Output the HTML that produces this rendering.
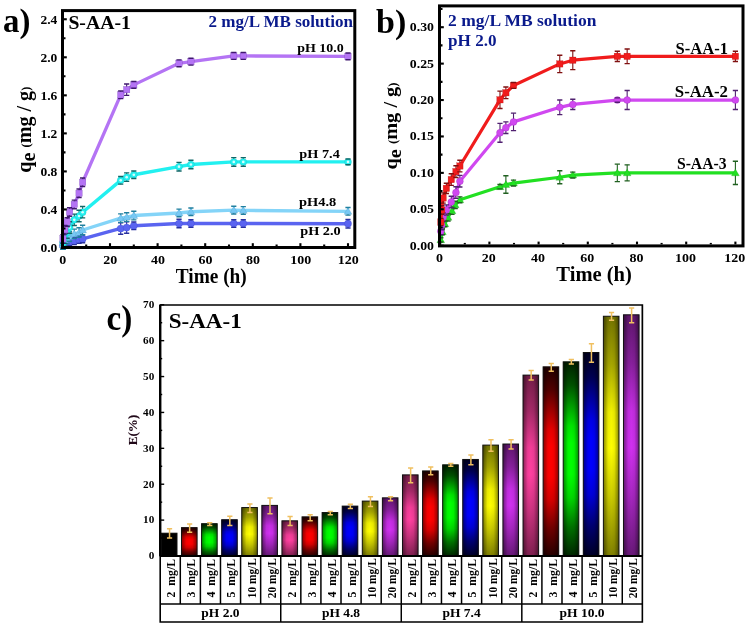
<!DOCTYPE html>
<html><head><meta charset="utf-8"><style>
html,body{margin:0;padding:0;background:#fff;}
body{width:749px;height:626px;overflow:hidden;font-family:"Liberation Serif",serif;}
svg{display:block;filter:blur(0.3px);}
</style></head><body>
<svg width="749" height="626" viewBox="0 0 749 626">
<rect width="749" height="626" fill="#fff"/>
<polyline points="62.99,245.60 64.78,243.70 67.16,242.75 69.54,241.79 74.30,240.84 79.06,239.61 82.63,238.94 120.71,228.48 126.66,227.53 133.80,225.82 179.02,223.53 190.92,223.53 233.76,223.53 243.28,223.53 348.00,223.72" fill="none" stroke="#5a64f0" stroke-width="3.4" stroke-linejoin="round"/>
<path d="M62.99,241.79V249.40" stroke="#2830a0" stroke-width="1.1" fill="none"/>
<path d="M64.78,239.89V247.50" stroke="#2830a0" stroke-width="1.1" fill="none"/>
<path d="M67.16,238.94V246.55" stroke="#2830a0" stroke-width="1.1" fill="none"/>
<path d="M69.54,237.99V245.60" stroke="#2830a0" stroke-width="1.1" fill="none"/>
<path d="M74.30,237.04V244.65" stroke="#2830a0" stroke-width="1.1" fill="none"/>
<path d="M79.06,235.80V243.41" stroke="#2830a0" stroke-width="1.1" fill="none"/>
<path d="M82.63,235.14V242.75" stroke="#2830a0" stroke-width="1.1" fill="none"/>
<path d="M120.71,222.77V234.19" stroke="#2830a0" stroke-width="1.1" fill="none"/>
<path d="M126.66,221.82V233.24" stroke="#2830a0" stroke-width="1.1" fill="none"/>
<path d="M133.80,222.01V229.62" stroke="#2830a0" stroke-width="1.1" fill="none"/>
<path d="M179.02,219.26V227.81" stroke="#2830a0" stroke-width="1.1" fill="none"/>
<path d="M190.92,219.73V227.34" stroke="#2830a0" stroke-width="1.1" fill="none"/>
<path d="M233.76,219.73V227.34" stroke="#2830a0" stroke-width="1.1" fill="none"/>
<path d="M243.28,219.73V227.34" stroke="#2830a0" stroke-width="1.1" fill="none"/>
<path d="M348.00,219.45V228.00" stroke="#2830a0" stroke-width="1.1" fill="none"/>
<circle cx="62.99" cy="245.60" r="3.60" fill="#5a64f0" stroke="#3038c0" stroke-width="0.35" stroke-opacity="0.6"/>
<circle cx="64.78" cy="243.70" r="3.60" fill="#5a64f0" stroke="#3038c0" stroke-width="0.35" stroke-opacity="0.6"/>
<circle cx="67.16" cy="242.75" r="3.60" fill="#5a64f0" stroke="#3038c0" stroke-width="0.35" stroke-opacity="0.6"/>
<circle cx="69.54" cy="241.79" r="3.60" fill="#5a64f0" stroke="#3038c0" stroke-width="0.35" stroke-opacity="0.6"/>
<circle cx="74.30" cy="240.84" r="3.60" fill="#5a64f0" stroke="#3038c0" stroke-width="0.35" stroke-opacity="0.6"/>
<circle cx="79.06" cy="239.61" r="3.60" fill="#5a64f0" stroke="#3038c0" stroke-width="0.35" stroke-opacity="0.6"/>
<circle cx="82.63" cy="238.94" r="3.60" fill="#5a64f0" stroke="#3038c0" stroke-width="0.35" stroke-opacity="0.6"/>
<circle cx="120.71" cy="228.48" r="3.60" fill="#5a64f0" stroke="#3038c0" stroke-width="0.35" stroke-opacity="0.6"/>
<circle cx="126.66" cy="227.53" r="3.60" fill="#5a64f0" stroke="#3038c0" stroke-width="0.35" stroke-opacity="0.6"/>
<circle cx="133.80" cy="225.82" r="3.60" fill="#5a64f0" stroke="#3038c0" stroke-width="0.35" stroke-opacity="0.6"/>
<circle cx="179.02" cy="223.53" r="3.60" fill="#5a64f0" stroke="#3038c0" stroke-width="0.35" stroke-opacity="0.6"/>
<circle cx="190.92" cy="223.53" r="3.60" fill="#5a64f0" stroke="#3038c0" stroke-width="0.35" stroke-opacity="0.6"/>
<circle cx="233.76" cy="223.53" r="3.60" fill="#5a64f0" stroke="#3038c0" stroke-width="0.35" stroke-opacity="0.6"/>
<circle cx="243.28" cy="223.53" r="3.60" fill="#5a64f0" stroke="#3038c0" stroke-width="0.35" stroke-opacity="0.6"/>
<circle cx="348.00" cy="223.72" r="3.60" fill="#5a64f0" stroke="#3038c0" stroke-width="0.35" stroke-opacity="0.6"/>
<path d="M60.39,241.79H65.59M60.39,249.40H65.59" stroke="#2830a0" stroke-width="1.4" fill="none"/>
<path d="M62.18,239.89H67.38M62.18,247.50H67.38" stroke="#2830a0" stroke-width="1.4" fill="none"/>
<path d="M64.56,238.94H69.76M64.56,246.55H69.76" stroke="#2830a0" stroke-width="1.4" fill="none"/>
<path d="M66.94,237.99H72.14M66.94,245.60H72.14" stroke="#2830a0" stroke-width="1.4" fill="none"/>
<path d="M71.70,237.04H76.90M71.70,244.65H76.90" stroke="#2830a0" stroke-width="1.4" fill="none"/>
<path d="M76.46,235.80H81.66M76.46,243.41H81.66" stroke="#2830a0" stroke-width="1.4" fill="none"/>
<path d="M80.03,235.14H85.23M80.03,242.75H85.23" stroke="#2830a0" stroke-width="1.4" fill="none"/>
<path d="M118.11,222.77H123.31M118.11,234.19H123.31" stroke="#2830a0" stroke-width="1.4" fill="none"/>
<path d="M124.06,221.82H129.26M124.06,233.24H129.26" stroke="#2830a0" stroke-width="1.4" fill="none"/>
<path d="M131.20,222.01H136.40M131.20,229.62H136.40" stroke="#2830a0" stroke-width="1.4" fill="none"/>
<path d="M176.42,219.26H181.62M176.42,227.81H181.62" stroke="#2830a0" stroke-width="1.4" fill="none"/>
<path d="M188.32,219.73H193.52M188.32,227.34H193.52" stroke="#2830a0" stroke-width="1.4" fill="none"/>
<path d="M231.16,219.73H236.36M231.16,227.34H236.36" stroke="#2830a0" stroke-width="1.4" fill="none"/>
<path d="M240.68,219.73H245.88M240.68,227.34H245.88" stroke="#2830a0" stroke-width="1.4" fill="none"/>
<path d="M345.40,219.45H350.60M345.40,228.00H350.60" stroke="#2830a0" stroke-width="1.4" fill="none"/>
<polyline points="62.99,244.65 64.78,240.84 67.16,238.94 69.54,236.47 74.30,233.90 79.06,232.57 82.63,230.00 120.71,218.11 126.66,217.07 133.80,215.55 179.02,212.98 190.92,211.74 233.76,210.13 243.28,210.41 348.00,211.36" fill="none" stroke="#84d4f8" stroke-width="3.4" stroke-linejoin="round"/>
<path d="M62.99,239.89V249.40" stroke="#2080a0" stroke-width="1.1" fill="none"/>
<path d="M64.78,236.09V245.60" stroke="#2080a0" stroke-width="1.1" fill="none"/>
<path d="M67.16,234.19V243.70" stroke="#2080a0" stroke-width="1.1" fill="none"/>
<path d="M69.54,231.71V241.22" stroke="#2080a0" stroke-width="1.1" fill="none"/>
<path d="M74.30,229.15V238.66" stroke="#2080a0" stroke-width="1.1" fill="none"/>
<path d="M79.06,227.81V237.32" stroke="#2080a0" stroke-width="1.1" fill="none"/>
<path d="M82.63,225.25V234.76" stroke="#2080a0" stroke-width="1.1" fill="none"/>
<path d="M120.71,213.83V222.39" stroke="#2080a0" stroke-width="1.1" fill="none"/>
<path d="M126.66,212.79V221.35" stroke="#2080a0" stroke-width="1.1" fill="none"/>
<path d="M133.80,211.27V219.83" stroke="#2080a0" stroke-width="1.1" fill="none"/>
<path d="M179.02,209.17V216.78" stroke="#2080a0" stroke-width="1.1" fill="none"/>
<path d="M190.92,207.94V215.55" stroke="#2080a0" stroke-width="1.1" fill="none"/>
<path d="M233.76,206.32V213.93" stroke="#2080a0" stroke-width="1.1" fill="none"/>
<path d="M243.28,206.61V214.22" stroke="#2080a0" stroke-width="1.1" fill="none"/>
<path d="M348.00,207.56V215.17" stroke="#2080a0" stroke-width="1.1" fill="none"/>
<path d="M62.99,240.74 L66.91,247.58 L59.09,247.58 Z" fill="#78c8f4" stroke="#3088b0" stroke-width="0.35" stroke-opacity="0.6"/>
<path d="M64.78,236.93 L68.69,243.78 L60.87,243.78 Z" fill="#78c8f4" stroke="#3088b0" stroke-width="0.35" stroke-opacity="0.6"/>
<path d="M67.16,235.03 L71.07,241.87 L63.25,241.87 Z" fill="#78c8f4" stroke="#3088b0" stroke-width="0.35" stroke-opacity="0.6"/>
<path d="M69.54,232.56 L73.45,239.40 L65.63,239.40 Z" fill="#78c8f4" stroke="#3088b0" stroke-width="0.35" stroke-opacity="0.6"/>
<path d="M74.30,229.99 L78.21,236.83 L70.39,236.83 Z" fill="#78c8f4" stroke="#3088b0" stroke-width="0.35" stroke-opacity="0.6"/>
<path d="M79.06,228.66 L82.97,235.50 L75.15,235.50 Z" fill="#78c8f4" stroke="#3088b0" stroke-width="0.35" stroke-opacity="0.6"/>
<path d="M82.63,226.09 L86.54,232.93 L78.72,232.93 Z" fill="#78c8f4" stroke="#3088b0" stroke-width="0.35" stroke-opacity="0.6"/>
<path d="M120.71,214.20 L124.62,221.05 L116.80,221.05 Z" fill="#78c8f4" stroke="#3088b0" stroke-width="0.35" stroke-opacity="0.6"/>
<path d="M126.66,213.16 L130.57,220.00 L122.75,220.00 Z" fill="#78c8f4" stroke="#3088b0" stroke-width="0.35" stroke-opacity="0.6"/>
<path d="M133.80,211.64 L137.71,218.48 L129.89,218.48 Z" fill="#78c8f4" stroke="#3088b0" stroke-width="0.35" stroke-opacity="0.6"/>
<path d="M179.02,209.07 L182.93,215.91 L175.11,215.91 Z" fill="#78c8f4" stroke="#3088b0" stroke-width="0.35" stroke-opacity="0.6"/>
<path d="M190.92,207.83 L194.83,214.67 L187.01,214.67 Z" fill="#78c8f4" stroke="#3088b0" stroke-width="0.35" stroke-opacity="0.6"/>
<path d="M233.76,206.22 L237.67,213.06 L229.85,213.06 Z" fill="#78c8f4" stroke="#3088b0" stroke-width="0.35" stroke-opacity="0.6"/>
<path d="M243.28,206.50 L247.19,213.34 L239.37,213.34 Z" fill="#78c8f4" stroke="#3088b0" stroke-width="0.35" stroke-opacity="0.6"/>
<path d="M348.00,207.45 L351.91,214.29 L344.09,214.29 Z" fill="#78c8f4" stroke="#3088b0" stroke-width="0.35" stroke-opacity="0.6"/>
<path d="M60.39,239.89H65.59M60.39,249.40H65.59" stroke="#2080a0" stroke-width="1.4" fill="none"/>
<path d="M62.18,236.09H67.38M62.18,245.60H67.38" stroke="#2080a0" stroke-width="1.4" fill="none"/>
<path d="M64.56,234.19H69.76M64.56,243.70H69.76" stroke="#2080a0" stroke-width="1.4" fill="none"/>
<path d="M66.94,231.71H72.14M66.94,241.22H72.14" stroke="#2080a0" stroke-width="1.4" fill="none"/>
<path d="M71.70,229.15H76.90M71.70,238.66H76.90" stroke="#2080a0" stroke-width="1.4" fill="none"/>
<path d="M76.46,227.81H81.66M76.46,237.32H81.66" stroke="#2080a0" stroke-width="1.4" fill="none"/>
<path d="M80.03,225.25H85.23M80.03,234.76H85.23" stroke="#2080a0" stroke-width="1.4" fill="none"/>
<path d="M118.11,213.83H123.31M118.11,222.39H123.31" stroke="#2080a0" stroke-width="1.4" fill="none"/>
<path d="M124.06,212.79H129.26M124.06,221.35H129.26" stroke="#2080a0" stroke-width="1.4" fill="none"/>
<path d="M131.20,211.27H136.40M131.20,219.83H136.40" stroke="#2080a0" stroke-width="1.4" fill="none"/>
<path d="M176.42,209.17H181.62M176.42,216.78H181.62" stroke="#2080a0" stroke-width="1.4" fill="none"/>
<path d="M188.32,207.94H193.52M188.32,215.55H193.52" stroke="#2080a0" stroke-width="1.4" fill="none"/>
<path d="M231.16,206.32H236.36M231.16,213.93H236.36" stroke="#2080a0" stroke-width="1.4" fill="none"/>
<path d="M240.68,206.61H245.88M240.68,214.22H245.88" stroke="#2080a0" stroke-width="1.4" fill="none"/>
<path d="M345.40,207.56H350.60M345.40,215.17H350.60" stroke="#2080a0" stroke-width="1.4" fill="none"/>
<polyline points="62.99,242.75 64.78,237.70 67.16,232.57 69.54,227.53 74.30,219.83 79.06,216.02 82.63,212.22 120.71,180.36 126.66,177.13 133.80,174.75 179.02,166.67 190.92,164.48 233.76,161.91 243.28,161.91 348.00,161.91" fill="none" stroke="#22f0f0" stroke-width="3.4" stroke-linejoin="round"/>
<path d="M62.99,237.04V248.45" stroke="#106868" stroke-width="1.1" fill="none"/>
<path d="M64.78,232.00V243.41" stroke="#106868" stroke-width="1.1" fill="none"/>
<path d="M67.16,226.86V238.28" stroke="#106868" stroke-width="1.1" fill="none"/>
<path d="M69.54,221.82V233.24" stroke="#106868" stroke-width="1.1" fill="none"/>
<path d="M74.30,214.12V225.53" stroke="#106868" stroke-width="1.1" fill="none"/>
<path d="M79.06,210.32V221.73" stroke="#106868" stroke-width="1.1" fill="none"/>
<path d="M82.63,206.51V217.92" stroke="#106868" stroke-width="1.1" fill="none"/>
<path d="M120.71,176.56V184.16" stroke="#106868" stroke-width="1.1" fill="none"/>
<path d="M126.66,172.85V181.41" stroke="#106868" stroke-width="1.1" fill="none"/>
<path d="M133.80,170.94V178.55" stroke="#106868" stroke-width="1.1" fill="none"/>
<path d="M179.02,162.39V170.94" stroke="#106868" stroke-width="1.1" fill="none"/>
<path d="M190.92,160.20V168.76" stroke="#106868" stroke-width="1.1" fill="none"/>
<path d="M233.76,157.63V166.19" stroke="#106868" stroke-width="1.1" fill="none"/>
<path d="M243.28,157.63V166.19" stroke="#106868" stroke-width="1.1" fill="none"/>
<path d="M348.00,159.06V164.76" stroke="#106868" stroke-width="1.1" fill="none"/>
<circle cx="62.99" cy="242.75" r="3.50" fill="#22f0f0" stroke="#10a0a0" stroke-width="0.35" stroke-opacity="0.6"/>
<circle cx="62.99" cy="242.75" r="1.33" fill="#f4ffff" fill-opacity="0.85"/>
<circle cx="64.78" cy="237.70" r="3.50" fill="#22f0f0" stroke="#10a0a0" stroke-width="0.35" stroke-opacity="0.6"/>
<circle cx="64.78" cy="237.70" r="1.33" fill="#f4ffff" fill-opacity="0.85"/>
<circle cx="67.16" cy="232.57" r="3.50" fill="#22f0f0" stroke="#10a0a0" stroke-width="0.35" stroke-opacity="0.6"/>
<circle cx="67.16" cy="232.57" r="1.33" fill="#f4ffff" fill-opacity="0.85"/>
<circle cx="69.54" cy="227.53" r="3.50" fill="#22f0f0" stroke="#10a0a0" stroke-width="0.35" stroke-opacity="0.6"/>
<circle cx="69.54" cy="227.53" r="1.33" fill="#f4ffff" fill-opacity="0.85"/>
<circle cx="74.30" cy="219.83" r="3.50" fill="#22f0f0" stroke="#10a0a0" stroke-width="0.35" stroke-opacity="0.6"/>
<circle cx="74.30" cy="219.83" r="1.33" fill="#f4ffff" fill-opacity="0.85"/>
<circle cx="79.06" cy="216.02" r="3.50" fill="#22f0f0" stroke="#10a0a0" stroke-width="0.35" stroke-opacity="0.6"/>
<circle cx="79.06" cy="216.02" r="1.33" fill="#f4ffff" fill-opacity="0.85"/>
<circle cx="82.63" cy="212.22" r="3.50" fill="#22f0f0" stroke="#10a0a0" stroke-width="0.35" stroke-opacity="0.6"/>
<circle cx="82.63" cy="212.22" r="1.33" fill="#f4ffff" fill-opacity="0.85"/>
<circle cx="120.71" cy="180.36" r="3.50" fill="#22f0f0" stroke="#10a0a0" stroke-width="0.35" stroke-opacity="0.6"/>
<circle cx="120.71" cy="180.36" r="1.33" fill="#f4ffff" fill-opacity="0.85"/>
<circle cx="126.66" cy="177.13" r="3.50" fill="#22f0f0" stroke="#10a0a0" stroke-width="0.35" stroke-opacity="0.6"/>
<circle cx="126.66" cy="177.13" r="1.33" fill="#f4ffff" fill-opacity="0.85"/>
<circle cx="133.80" cy="174.75" r="3.50" fill="#22f0f0" stroke="#10a0a0" stroke-width="0.35" stroke-opacity="0.6"/>
<circle cx="133.80" cy="174.75" r="1.33" fill="#f4ffff" fill-opacity="0.85"/>
<circle cx="179.02" cy="166.67" r="3.50" fill="#22f0f0" stroke="#10a0a0" stroke-width="0.35" stroke-opacity="0.6"/>
<circle cx="179.02" cy="166.67" r="1.33" fill="#f4ffff" fill-opacity="0.85"/>
<circle cx="190.92" cy="164.48" r="3.50" fill="#22f0f0" stroke="#10a0a0" stroke-width="0.35" stroke-opacity="0.6"/>
<circle cx="190.92" cy="164.48" r="1.33" fill="#f4ffff" fill-opacity="0.85"/>
<circle cx="233.76" cy="161.91" r="3.50" fill="#22f0f0" stroke="#10a0a0" stroke-width="0.35" stroke-opacity="0.6"/>
<circle cx="233.76" cy="161.91" r="1.33" fill="#f4ffff" fill-opacity="0.85"/>
<circle cx="243.28" cy="161.91" r="3.50" fill="#22f0f0" stroke="#10a0a0" stroke-width="0.35" stroke-opacity="0.6"/>
<circle cx="243.28" cy="161.91" r="1.33" fill="#f4ffff" fill-opacity="0.85"/>
<circle cx="348.00" cy="161.91" r="3.50" fill="#22f0f0" stroke="#10a0a0" stroke-width="0.35" stroke-opacity="0.6"/>
<circle cx="348.00" cy="161.91" r="1.33" fill="#f4ffff" fill-opacity="0.85"/>
<path d="M60.39,237.04H65.59M60.39,248.45H65.59" stroke="#106868" stroke-width="1.4" fill="none"/>
<path d="M62.18,232.00H67.38M62.18,243.41H67.38" stroke="#106868" stroke-width="1.4" fill="none"/>
<path d="M64.56,226.86H69.76M64.56,238.28H69.76" stroke="#106868" stroke-width="1.4" fill="none"/>
<path d="M66.94,221.82H72.14M66.94,233.24H72.14" stroke="#106868" stroke-width="1.4" fill="none"/>
<path d="M71.70,214.12H76.90M71.70,225.53H76.90" stroke="#106868" stroke-width="1.4" fill="none"/>
<path d="M76.46,210.32H81.66M76.46,221.73H81.66" stroke="#106868" stroke-width="1.4" fill="none"/>
<path d="M80.03,206.51H85.23M80.03,217.92H85.23" stroke="#106868" stroke-width="1.4" fill="none"/>
<path d="M118.11,176.56H123.31M118.11,184.16H123.31" stroke="#106868" stroke-width="1.4" fill="none"/>
<path d="M124.06,172.85H129.26M124.06,181.41H129.26" stroke="#106868" stroke-width="1.4" fill="none"/>
<path d="M131.20,170.94H136.40M131.20,178.55H136.40" stroke="#106868" stroke-width="1.4" fill="none"/>
<path d="M176.42,162.39H181.62M176.42,170.94H181.62" stroke="#106868" stroke-width="1.4" fill="none"/>
<path d="M188.32,160.20H193.52M188.32,168.76H193.52" stroke="#106868" stroke-width="1.4" fill="none"/>
<path d="M231.16,157.63H236.36M231.16,166.19H236.36" stroke="#106868" stroke-width="1.4" fill="none"/>
<path d="M240.68,157.63H245.88M240.68,166.19H245.88" stroke="#106868" stroke-width="1.4" fill="none"/>
<path d="M345.40,159.06H350.60M345.40,164.76H350.60" stroke="#106868" stroke-width="1.4" fill="none"/>
<polyline points="62.99,238.94 64.78,229.72 67.16,222.01 69.54,212.03 74.30,204.42 79.06,193.29 82.63,182.26 120.71,94.86 126.66,89.63 133.80,84.88 179.02,63.29 190.92,61.67 233.76,55.97 243.28,55.97 348.00,56.35" fill="none" stroke="#b474f4" stroke-width="3.3" stroke-linejoin="round"/>
<path d="M62.99,234.66V243.22" stroke="#401870" stroke-width="1.1" fill="none"/>
<path d="M64.78,225.44V234.00" stroke="#401870" stroke-width="1.1" fill="none"/>
<path d="M67.16,217.73V226.29" stroke="#401870" stroke-width="1.1" fill="none"/>
<path d="M69.54,207.75V216.31" stroke="#401870" stroke-width="1.1" fill="none"/>
<path d="M74.30,200.14V208.70" stroke="#401870" stroke-width="1.1" fill="none"/>
<path d="M79.06,189.01V197.57" stroke="#401870" stroke-width="1.1" fill="none"/>
<path d="M82.63,177.98V186.54" stroke="#401870" stroke-width="1.1" fill="none"/>
<path d="M120.71,91.06V98.67" stroke="#401870" stroke-width="1.1" fill="none"/>
<path d="M126.66,83.93V95.34" stroke="#401870" stroke-width="1.1" fill="none"/>
<path d="M133.80,81.46V88.30" stroke="#401870" stroke-width="1.1" fill="none"/>
<path d="M179.02,59.87V66.71" stroke="#401870" stroke-width="1.1" fill="none"/>
<path d="M190.92,58.25V65.10" stroke="#401870" stroke-width="1.1" fill="none"/>
<path d="M233.76,52.55V59.39" stroke="#401870" stroke-width="1.1" fill="none"/>
<path d="M243.28,52.55V59.39" stroke="#401870" stroke-width="1.1" fill="none"/>
<path d="M348.00,52.93V59.77" stroke="#401870" stroke-width="1.1" fill="none"/>
<rect x="59.79" y="235.74" width="6.40" height="6.40" fill="#b474f4" stroke="#6030a0" stroke-width="0.35" stroke-opacity="0.6"/>
<rect x="61.58" y="226.52" width="6.40" height="6.40" fill="#b474f4" stroke="#6030a0" stroke-width="0.35" stroke-opacity="0.6"/>
<rect x="63.96" y="218.81" width="6.40" height="6.40" fill="#b474f4" stroke="#6030a0" stroke-width="0.35" stroke-opacity="0.6"/>
<rect x="66.34" y="208.83" width="6.40" height="6.40" fill="#b474f4" stroke="#6030a0" stroke-width="0.35" stroke-opacity="0.6"/>
<rect x="71.10" y="201.22" width="6.40" height="6.40" fill="#b474f4" stroke="#6030a0" stroke-width="0.35" stroke-opacity="0.6"/>
<rect x="75.86" y="190.09" width="6.40" height="6.40" fill="#b474f4" stroke="#6030a0" stroke-width="0.35" stroke-opacity="0.6"/>
<rect x="79.43" y="179.06" width="6.40" height="6.40" fill="#b474f4" stroke="#6030a0" stroke-width="0.35" stroke-opacity="0.6"/>
<rect x="117.51" y="91.66" width="6.40" height="6.40" fill="#b474f4" stroke="#6030a0" stroke-width="0.35" stroke-opacity="0.6"/>
<rect x="123.46" y="86.43" width="6.40" height="6.40" fill="#b474f4" stroke="#6030a0" stroke-width="0.35" stroke-opacity="0.6"/>
<rect x="130.60" y="81.68" width="6.40" height="6.40" fill="#b474f4" stroke="#6030a0" stroke-width="0.35" stroke-opacity="0.6"/>
<rect x="175.82" y="60.09" width="6.40" height="6.40" fill="#b474f4" stroke="#6030a0" stroke-width="0.35" stroke-opacity="0.6"/>
<rect x="187.72" y="58.47" width="6.40" height="6.40" fill="#b474f4" stroke="#6030a0" stroke-width="0.35" stroke-opacity="0.6"/>
<rect x="230.56" y="52.77" width="6.40" height="6.40" fill="#b474f4" stroke="#6030a0" stroke-width="0.35" stroke-opacity="0.6"/>
<rect x="240.08" y="52.77" width="6.40" height="6.40" fill="#b474f4" stroke="#6030a0" stroke-width="0.35" stroke-opacity="0.6"/>
<rect x="344.80" y="53.15" width="6.40" height="6.40" fill="#b474f4" stroke="#6030a0" stroke-width="0.35" stroke-opacity="0.6"/>
<path d="M60.39,234.66H65.59M60.39,243.22H65.59" stroke="#401870" stroke-width="1.4" fill="none"/>
<path d="M62.18,225.44H67.38M62.18,234.00H67.38" stroke="#401870" stroke-width="1.4" fill="none"/>
<path d="M64.56,217.73H69.76M64.56,226.29H69.76" stroke="#401870" stroke-width="1.4" fill="none"/>
<path d="M66.94,207.75H72.14M66.94,216.31H72.14" stroke="#401870" stroke-width="1.4" fill="none"/>
<path d="M71.70,200.14H76.90M71.70,208.70H76.90" stroke="#401870" stroke-width="1.4" fill="none"/>
<path d="M76.46,189.01H81.66M76.46,197.57H81.66" stroke="#401870" stroke-width="1.4" fill="none"/>
<path d="M80.03,177.98H85.23M80.03,186.54H85.23" stroke="#401870" stroke-width="1.4" fill="none"/>
<path d="M118.11,91.06H123.31M118.11,98.67H123.31" stroke="#401870" stroke-width="1.4" fill="none"/>
<path d="M124.06,83.93H129.26M124.06,95.34H129.26" stroke="#401870" stroke-width="1.4" fill="none"/>
<path d="M131.20,81.46H136.40M131.20,88.30H136.40" stroke="#401870" stroke-width="1.4" fill="none"/>
<path d="M176.42,59.87H181.62M176.42,66.71H181.62" stroke="#401870" stroke-width="1.4" fill="none"/>
<path d="M188.32,58.25H193.52M188.32,65.10H193.52" stroke="#401870" stroke-width="1.4" fill="none"/>
<path d="M231.16,52.55H236.36M231.16,59.39H236.36" stroke="#401870" stroke-width="1.4" fill="none"/>
<path d="M240.68,52.55H245.88M240.68,59.39H245.88" stroke="#401870" stroke-width="1.4" fill="none"/>
<path d="M345.40,52.93H350.60M345.40,59.77H350.60" stroke="#401870" stroke-width="1.4" fill="none"/>
<rect x="62.5" y="10.6" width="292.3" height="236.9" fill="none" stroke="#000" stroke-width="3"/>
<line x1="62.40" y1="246" x2="62.40" y2="243.2" stroke="#000" stroke-width="2.1"/>
<line x1="86.20" y1="246" x2="86.20" y2="244.5" stroke="#000" stroke-width="2.1"/>
<line x1="110.00" y1="246" x2="110.00" y2="243.2" stroke="#000" stroke-width="2.1"/>
<line x1="133.80" y1="246" x2="133.80" y2="244.5" stroke="#000" stroke-width="2.1"/>
<line x1="157.60" y1="246" x2="157.60" y2="243.2" stroke="#000" stroke-width="2.1"/>
<line x1="181.40" y1="246" x2="181.40" y2="244.5" stroke="#000" stroke-width="2.1"/>
<line x1="205.20" y1="246" x2="205.20" y2="243.2" stroke="#000" stroke-width="2.1"/>
<line x1="229.00" y1="246" x2="229.00" y2="244.5" stroke="#000" stroke-width="2.1"/>
<line x1="252.80" y1="246" x2="252.80" y2="243.2" stroke="#000" stroke-width="2.1"/>
<line x1="276.60" y1="246" x2="276.60" y2="244.5" stroke="#000" stroke-width="2.1"/>
<line x1="300.40" y1="246" x2="300.40" y2="243.2" stroke="#000" stroke-width="2.1"/>
<line x1="324.20" y1="246" x2="324.20" y2="244.5" stroke="#000" stroke-width="2.1"/>
<line x1="348.00" y1="246" x2="348.00" y2="243.2" stroke="#000" stroke-width="2.1"/>
<line x1="64" y1="247.50" x2="66.8" y2="247.50" stroke="#000" stroke-width="2.1"/>
<line x1="64" y1="228.48" x2="65.5" y2="228.48" stroke="#000" stroke-width="2.1"/>
<line x1="64" y1="209.46" x2="66.8" y2="209.46" stroke="#000" stroke-width="2.1"/>
<line x1="64" y1="190.44" x2="65.5" y2="190.44" stroke="#000" stroke-width="2.1"/>
<line x1="64" y1="171.42" x2="66.8" y2="171.42" stroke="#000" stroke-width="2.1"/>
<line x1="64" y1="152.40" x2="65.5" y2="152.40" stroke="#000" stroke-width="2.1"/>
<line x1="64" y1="133.38" x2="66.8" y2="133.38" stroke="#000" stroke-width="2.1"/>
<line x1="64" y1="114.36" x2="65.5" y2="114.36" stroke="#000" stroke-width="2.1"/>
<line x1="64" y1="95.34" x2="66.8" y2="95.34" stroke="#000" stroke-width="2.1"/>
<line x1="64" y1="76.32" x2="65.5" y2="76.32" stroke="#000" stroke-width="2.1"/>
<line x1="64" y1="57.30" x2="66.8" y2="57.30" stroke="#000" stroke-width="2.1"/>
<line x1="64" y1="38.28" x2="65.5" y2="38.28" stroke="#000" stroke-width="2.1"/>
<line x1="64" y1="19.26" x2="66.8" y2="19.26" stroke="#000" stroke-width="2.1"/>
<text x="57.30" y="252.10" font-family="Liberation Serif" font-weight="bold" font-size="13.4" text-anchor="end" fill="#000" textLength="16.9" lengthAdjust="spacingAndGlyphs" >0.0</text>
<text x="57.30" y="214.06" font-family="Liberation Serif" font-weight="bold" font-size="13.4" text-anchor="end" fill="#000" textLength="16.9" lengthAdjust="spacingAndGlyphs" >0.4</text>
<text x="57.30" y="176.02" font-family="Liberation Serif" font-weight="bold" font-size="13.4" text-anchor="end" fill="#000" textLength="16.9" lengthAdjust="spacingAndGlyphs" >0.8</text>
<text x="57.30" y="137.98" font-family="Liberation Serif" font-weight="bold" font-size="13.4" text-anchor="end" fill="#000" textLength="16.9" lengthAdjust="spacingAndGlyphs" >1.2</text>
<text x="57.30" y="99.94" font-family="Liberation Serif" font-weight="bold" font-size="13.4" text-anchor="end" fill="#000" textLength="16.9" lengthAdjust="spacingAndGlyphs" >1.6</text>
<text x="57.30" y="61.90" font-family="Liberation Serif" font-weight="bold" font-size="13.4" text-anchor="end" fill="#000" textLength="16.9" lengthAdjust="spacingAndGlyphs" >2.0</text>
<text x="57.30" y="23.86" font-family="Liberation Serif" font-weight="bold" font-size="13.4" text-anchor="end" fill="#000" textLength="16.9" lengthAdjust="spacingAndGlyphs" >2.4</text>
<text x="62.70" y="264.40" font-family="Liberation Serif" font-weight="bold" font-size="13" text-anchor="middle" fill="#000" textLength="7.0" lengthAdjust="spacingAndGlyphs" >0</text>
<text x="110.30" y="264.40" font-family="Liberation Serif" font-weight="bold" font-size="13" text-anchor="middle" fill="#000" textLength="14.0" lengthAdjust="spacingAndGlyphs" >20</text>
<text x="157.90" y="264.40" font-family="Liberation Serif" font-weight="bold" font-size="13" text-anchor="middle" fill="#000" textLength="14.0" lengthAdjust="spacingAndGlyphs" >40</text>
<text x="205.50" y="264.40" font-family="Liberation Serif" font-weight="bold" font-size="13" text-anchor="middle" fill="#000" textLength="14.0" lengthAdjust="spacingAndGlyphs" >60</text>
<text x="253.10" y="264.40" font-family="Liberation Serif" font-weight="bold" font-size="13" text-anchor="middle" fill="#000" textLength="14.0" lengthAdjust="spacingAndGlyphs" >80</text>
<text x="300.70" y="264.40" font-family="Liberation Serif" font-weight="bold" font-size="13" text-anchor="middle" fill="#000" textLength="21.0" lengthAdjust="spacingAndGlyphs" >100</text>
<text x="348.30" y="264.40" font-family="Liberation Serif" font-weight="bold" font-size="13" text-anchor="middle" fill="#000" textLength="21.0" lengthAdjust="spacingAndGlyphs" >120</text>
<text x="211.30" y="282.90" font-family="Liberation Serif" font-weight="bold" font-size="20" text-anchor="middle" fill="#000" textLength="71" lengthAdjust="spacingAndGlyphs" >Time (h)</text>
<text transform="translate(31.0,129.7) rotate(-90)" font-family="Liberation Serif" font-weight="bold" font-size="20" text-anchor="middle" textLength="86" lengthAdjust="spacingAndGlyphs" xml:space="preserve"><tspan>q</tspan><tspan dy="3.7">e</tspan><tspan dy="-3.7"> </tspan><tspan font-size="12.4" dy="-0.7">(</tspan><tspan dy="0.7">mg / g</tspan><tspan font-size="12.4" dy="-0.7">)</tspan></text>
<text x="68.40" y="29.30" font-family="Liberation Serif" font-weight="bold" font-size="18.5" text-anchor="start" fill="#000" textLength="62.5" lengthAdjust="spacingAndGlyphs" >S-AA-1</text>
<text x="208.50" y="26.80" font-family="Liberation Serif" font-weight="bold" font-size="16" text-anchor="start" fill="#0a1a8c" textLength="144.5" lengthAdjust="spacingAndGlyphs" >2 mg/L MB solution</text>
<text x="297.20" y="52.40" font-family="Liberation Serif" font-weight="bold" font-size="13" text-anchor="start" fill="#000" textLength="46.5" lengthAdjust="spacingAndGlyphs" >pH 10.0</text>
<text x="299.30" y="157.60" font-family="Liberation Serif" font-weight="bold" font-size="12.5" text-anchor="start" fill="#000" textLength="40.5" lengthAdjust="spacingAndGlyphs" >pH 7.4</text>
<text x="299.00" y="206.00" font-family="Liberation Serif" font-weight="bold" font-size="12.5" text-anchor="start" fill="#000" textLength="37.3" lengthAdjust="spacingAndGlyphs" >pH4.8</text>
<text x="300.20" y="235.00" font-family="Liberation Serif" font-weight="bold" font-size="12.5" text-anchor="start" fill="#000" textLength="40.5" lengthAdjust="spacingAndGlyphs" >pH 2.0</text>
<text x="3.00" y="32.00" font-family="Liberation Serif" font-weight="bold" font-size="34" text-anchor="start" fill="#000" textLength="27.4" lengthAdjust="spacingAndGlyphs" >a)</text>
<polyline points="440.81,239.87 442.41,231.86 444.87,223.85 448.07,217.30 452.01,210.74 455.21,204.92 459.88,199.82 499.98,186.71 505.88,184.52 513.51,183.07 559.76,177.24 572.79,175.05 617.32,172.87 627.16,172.87 735.40,172.87" fill="none" stroke="#22e022" stroke-width="3.2" stroke-linejoin="round"/>
<path d="M440.81,237.69V242.06" stroke="#206020" stroke-width="1.1" fill="none"/>
<path d="M442.41,228.95V234.78" stroke="#206020" stroke-width="1.1" fill="none"/>
<path d="M444.87,220.94V226.76" stroke="#206020" stroke-width="1.1" fill="none"/>
<path d="M448.07,213.65V220.94" stroke="#206020" stroke-width="1.1" fill="none"/>
<path d="M452.01,207.10V214.38" stroke="#206020" stroke-width="1.1" fill="none"/>
<path d="M455.21,201.27V208.56" stroke="#206020" stroke-width="1.1" fill="none"/>
<path d="M459.88,196.90V202.73" stroke="#206020" stroke-width="1.1" fill="none"/>
<path d="M499.98,184.52V188.89" stroke="#206020" stroke-width="1.1" fill="none"/>
<path d="M505.88,175.78V193.26" stroke="#206020" stroke-width="1.1" fill="none"/>
<path d="M513.51,180.15V185.98" stroke="#206020" stroke-width="1.1" fill="none"/>
<path d="M559.76,170.69V183.79" stroke="#206020" stroke-width="1.1" fill="none"/>
<path d="M572.79,172.14V177.97" stroke="#206020" stroke-width="1.1" fill="none"/>
<path d="M617.32,164.13V181.61" stroke="#206020" stroke-width="1.1" fill="none"/>
<path d="M627.16,164.86V180.88" stroke="#206020" stroke-width="1.1" fill="none"/>
<path d="M735.40,161.22V184.52" stroke="#206020" stroke-width="1.1" fill="none"/>
<path d="M440.81,235.96 L444.73,242.81 L436.90,242.81 Z" fill="#22e022" stroke="#108010" stroke-width="0.35" stroke-opacity="0.6"/>
<path d="M442.41,227.95 L446.32,234.79 L438.50,234.79 Z" fill="#22e022" stroke="#108010" stroke-width="0.35" stroke-opacity="0.6"/>
<path d="M444.87,219.94 L448.78,226.78 L440.96,226.78 Z" fill="#22e022" stroke="#108010" stroke-width="0.35" stroke-opacity="0.6"/>
<path d="M448.07,213.39 L451.98,220.23 L444.16,220.23 Z" fill="#22e022" stroke="#108010" stroke-width="0.35" stroke-opacity="0.6"/>
<path d="M452.01,206.83 L455.92,213.67 L448.10,213.67 Z" fill="#22e022" stroke="#108010" stroke-width="0.35" stroke-opacity="0.6"/>
<path d="M455.21,201.01 L459.12,207.85 L451.30,207.85 Z" fill="#22e022" stroke="#108010" stroke-width="0.35" stroke-opacity="0.6"/>
<path d="M459.88,195.91 L463.79,202.75 L455.97,202.75 Z" fill="#22e022" stroke="#108010" stroke-width="0.35" stroke-opacity="0.6"/>
<path d="M499.98,182.80 L503.89,189.64 L496.07,189.64 Z" fill="#22e022" stroke="#108010" stroke-width="0.35" stroke-opacity="0.6"/>
<path d="M505.88,180.61 L509.79,187.46 L501.97,187.46 Z" fill="#22e022" stroke="#108010" stroke-width="0.35" stroke-opacity="0.6"/>
<path d="M513.51,179.16 L517.42,186.00 L509.60,186.00 Z" fill="#22e022" stroke="#108010" stroke-width="0.35" stroke-opacity="0.6"/>
<path d="M559.76,173.33 L563.67,180.17 L555.85,180.17 Z" fill="#22e022" stroke="#108010" stroke-width="0.35" stroke-opacity="0.6"/>
<path d="M572.79,171.14 L576.70,177.99 L568.88,177.99 Z" fill="#22e022" stroke="#108010" stroke-width="0.35" stroke-opacity="0.6"/>
<path d="M617.32,168.96 L621.23,175.80 L613.41,175.80 Z" fill="#22e022" stroke="#108010" stroke-width="0.35" stroke-opacity="0.6"/>
<path d="M627.16,168.96 L631.07,175.80 L623.25,175.80 Z" fill="#22e022" stroke="#108010" stroke-width="0.35" stroke-opacity="0.6"/>
<path d="M735.40,168.96 L739.31,175.80 L731.49,175.80 Z" fill="#22e022" stroke="#108010" stroke-width="0.35" stroke-opacity="0.6"/>
<path d="M438.21,237.69H443.42M438.21,242.06H443.42" stroke="#206020" stroke-width="1.4" fill="none"/>
<path d="M439.81,228.95H445.01M439.81,234.78H445.01" stroke="#206020" stroke-width="1.4" fill="none"/>
<path d="M442.27,220.94H447.47M442.27,226.76H447.47" stroke="#206020" stroke-width="1.4" fill="none"/>
<path d="M445.47,213.65H450.67M445.47,220.94H450.67" stroke="#206020" stroke-width="1.4" fill="none"/>
<path d="M449.41,207.10H454.61M449.41,214.38H454.61" stroke="#206020" stroke-width="1.4" fill="none"/>
<path d="M452.61,201.27H457.81M452.61,208.56H457.81" stroke="#206020" stroke-width="1.4" fill="none"/>
<path d="M457.28,196.90H462.48M457.28,202.73H462.48" stroke="#206020" stroke-width="1.4" fill="none"/>
<path d="M497.38,184.52H502.58M497.38,188.89H502.58" stroke="#206020" stroke-width="1.4" fill="none"/>
<path d="M503.28,175.78H508.48M503.28,193.26H508.48" stroke="#206020" stroke-width="1.4" fill="none"/>
<path d="M510.91,180.15H516.11M510.91,185.98H516.11" stroke="#206020" stroke-width="1.4" fill="none"/>
<path d="M557.16,170.69H562.36M557.16,183.79H562.36" stroke="#206020" stroke-width="1.4" fill="none"/>
<path d="M570.19,172.14H575.39M570.19,177.97H575.39" stroke="#206020" stroke-width="1.4" fill="none"/>
<path d="M614.72,164.13H619.92M614.72,181.61H619.92" stroke="#206020" stroke-width="1.4" fill="none"/>
<path d="M624.56,164.86H629.76M624.56,180.88H629.76" stroke="#206020" stroke-width="1.4" fill="none"/>
<path d="M732.80,161.22H738.00M732.80,184.52H738.00" stroke="#206020" stroke-width="1.4" fill="none"/>
<polyline points="440.81,231.13 441.68,225.31 443.15,217.30 446.35,210.01 451.27,202.00 455.94,192.53 459.88,181.17 499.98,132.81 505.88,127.72 513.51,121.89 559.76,107.32 572.79,104.41 617.32,100.04 627.16,100.04 735.40,100.04" fill="none" stroke="#d048f0" stroke-width="3.2" stroke-linejoin="round"/>
<path d="M440.81,227.49V234.78" stroke="#502070" stroke-width="1.1" fill="none"/>
<path d="M441.68,220.94V229.68" stroke="#502070" stroke-width="1.1" fill="none"/>
<path d="M443.15,212.93V221.67" stroke="#502070" stroke-width="1.1" fill="none"/>
<path d="M446.35,204.92V215.11" stroke="#502070" stroke-width="1.1" fill="none"/>
<path d="M451.27,196.18V207.83" stroke="#502070" stroke-width="1.1" fill="none"/>
<path d="M455.94,186.71V198.36" stroke="#502070" stroke-width="1.1" fill="none"/>
<path d="M459.88,175.35V187.00" stroke="#502070" stroke-width="1.1" fill="none"/>
<path d="M499.98,123.35V142.28" stroke="#502070" stroke-width="1.1" fill="none"/>
<path d="M505.88,121.89V133.54" stroke="#502070" stroke-width="1.1" fill="none"/>
<path d="M513.51,113.15V130.63" stroke="#502070" stroke-width="1.1" fill="none"/>
<path d="M559.76,100.04V114.61" stroke="#502070" stroke-width="1.1" fill="none"/>
<path d="M572.79,99.31V109.51" stroke="#502070" stroke-width="1.1" fill="none"/>
<path d="M617.32,97.86V102.22" stroke="#502070" stroke-width="1.1" fill="none"/>
<path d="M627.16,90.57V109.51" stroke="#502070" stroke-width="1.1" fill="none"/>
<path d="M735.40,90.57V109.51" stroke="#502070" stroke-width="1.1" fill="none"/>
<circle cx="440.81" cy="231.13" r="3.50" fill="#d048f0" stroke="#8020a0" stroke-width="0.35" stroke-opacity="0.6"/>
<circle cx="441.68" cy="225.31" r="3.50" fill="#d048f0" stroke="#8020a0" stroke-width="0.35" stroke-opacity="0.6"/>
<circle cx="443.15" cy="217.30" r="3.50" fill="#d048f0" stroke="#8020a0" stroke-width="0.35" stroke-opacity="0.6"/>
<circle cx="446.35" cy="210.01" r="3.50" fill="#d048f0" stroke="#8020a0" stroke-width="0.35" stroke-opacity="0.6"/>
<circle cx="451.27" cy="202.00" r="3.50" fill="#d048f0" stroke="#8020a0" stroke-width="0.35" stroke-opacity="0.6"/>
<circle cx="455.94" cy="192.53" r="3.50" fill="#d048f0" stroke="#8020a0" stroke-width="0.35" stroke-opacity="0.6"/>
<circle cx="459.88" cy="181.17" r="3.50" fill="#d048f0" stroke="#8020a0" stroke-width="0.35" stroke-opacity="0.6"/>
<circle cx="499.98" cy="132.81" r="3.50" fill="#d048f0" stroke="#8020a0" stroke-width="0.35" stroke-opacity="0.6"/>
<circle cx="505.88" cy="127.72" r="3.50" fill="#d048f0" stroke="#8020a0" stroke-width="0.35" stroke-opacity="0.6"/>
<circle cx="513.51" cy="121.89" r="3.50" fill="#d048f0" stroke="#8020a0" stroke-width="0.35" stroke-opacity="0.6"/>
<circle cx="559.76" cy="107.32" r="3.50" fill="#d048f0" stroke="#8020a0" stroke-width="0.35" stroke-opacity="0.6"/>
<circle cx="572.79" cy="104.41" r="3.50" fill="#d048f0" stroke="#8020a0" stroke-width="0.35" stroke-opacity="0.6"/>
<circle cx="617.32" cy="100.04" r="3.50" fill="#d048f0" stroke="#8020a0" stroke-width="0.35" stroke-opacity="0.6"/>
<circle cx="627.16" cy="100.04" r="3.50" fill="#d048f0" stroke="#8020a0" stroke-width="0.35" stroke-opacity="0.6"/>
<circle cx="735.40" cy="100.04" r="3.50" fill="#d048f0" stroke="#8020a0" stroke-width="0.35" stroke-opacity="0.6"/>
<path d="M438.21,227.49H443.42M438.21,234.78H443.42" stroke="#502070" stroke-width="1.4" fill="none"/>
<path d="M439.08,220.94H444.28M439.08,229.68H444.28" stroke="#502070" stroke-width="1.4" fill="none"/>
<path d="M440.55,212.93H445.75M440.55,221.67H445.75" stroke="#502070" stroke-width="1.4" fill="none"/>
<path d="M443.75,204.92H448.95M443.75,215.11H448.95" stroke="#502070" stroke-width="1.4" fill="none"/>
<path d="M448.67,196.18H453.87M448.67,207.83H453.87" stroke="#502070" stroke-width="1.4" fill="none"/>
<path d="M453.34,186.71H458.54M453.34,198.36H458.54" stroke="#502070" stroke-width="1.4" fill="none"/>
<path d="M457.28,175.35H462.48M457.28,187.00H462.48" stroke="#502070" stroke-width="1.4" fill="none"/>
<path d="M497.38,123.35H502.58M497.38,142.28H502.58" stroke="#502070" stroke-width="1.4" fill="none"/>
<path d="M503.28,121.89H508.48M503.28,133.54H508.48" stroke="#502070" stroke-width="1.4" fill="none"/>
<path d="M510.91,113.15H516.11M510.91,130.63H516.11" stroke="#502070" stroke-width="1.4" fill="none"/>
<path d="M557.16,100.04H562.36M557.16,114.61H562.36" stroke="#502070" stroke-width="1.4" fill="none"/>
<path d="M570.19,99.31H575.39M570.19,109.51H575.39" stroke="#502070" stroke-width="1.4" fill="none"/>
<path d="M614.72,97.86H619.92M614.72,102.22H619.92" stroke="#502070" stroke-width="1.4" fill="none"/>
<path d="M624.56,90.57H629.76M624.56,109.51H629.76" stroke="#502070" stroke-width="1.4" fill="none"/>
<path d="M732.80,90.57H738.00M732.80,109.51H738.00" stroke="#502070" stroke-width="1.4" fill="none"/>
<polyline points="440.81,222.03 441.68,210.01 443.15,198.00 446.35,188.38 451.27,179.57 455.94,171.63 459.88,166.02 499.98,99.82 505.88,92.76 513.51,85.47 559.76,63.92 572.79,60.20 617.32,56.34 627.16,56.34 735.40,56.34" fill="none" stroke="#f01c1c" stroke-width="3.2" stroke-linejoin="round"/>
<path d="M440.81,218.39V225.67" stroke="#801010" stroke-width="1.1" fill="none"/>
<path d="M441.68,205.64V214.38" stroke="#801010" stroke-width="1.1" fill="none"/>
<path d="M443.15,192.90V203.09" stroke="#801010" stroke-width="1.1" fill="none"/>
<path d="M446.35,183.28V193.48" stroke="#801010" stroke-width="1.1" fill="none"/>
<path d="M451.27,173.74V185.40" stroke="#801010" stroke-width="1.1" fill="none"/>
<path d="M455.94,165.81V177.46" stroke="#801010" stroke-width="1.1" fill="none"/>
<path d="M459.88,160.20V171.85" stroke="#801010" stroke-width="1.1" fill="none"/>
<path d="M499.98,91.08V108.56" stroke="#801010" stroke-width="1.1" fill="none"/>
<path d="M505.88,86.93V98.58" stroke="#801010" stroke-width="1.1" fill="none"/>
<path d="M513.51,82.56V88.39" stroke="#801010" stroke-width="1.1" fill="none"/>
<path d="M559.76,55.18V72.66" stroke="#801010" stroke-width="1.1" fill="none"/>
<path d="M572.79,50.73V69.67" stroke="#801010" stroke-width="1.1" fill="none"/>
<path d="M617.32,51.24V61.44" stroke="#801010" stroke-width="1.1" fill="none"/>
<path d="M627.16,49.06V63.62" stroke="#801010" stroke-width="1.1" fill="none"/>
<path d="M735.40,51.24V61.44" stroke="#801010" stroke-width="1.1" fill="none"/>
<rect x="437.62" y="218.83" width="6.40" height="6.40" fill="#f01c1c" stroke="#a00000" stroke-width="0.35" stroke-opacity="0.6"/>
<rect x="438.48" y="206.81" width="6.40" height="6.40" fill="#f01c1c" stroke="#a00000" stroke-width="0.35" stroke-opacity="0.6"/>
<rect x="439.95" y="194.80" width="6.40" height="6.40" fill="#f01c1c" stroke="#a00000" stroke-width="0.35" stroke-opacity="0.6"/>
<rect x="443.15" y="185.18" width="6.40" height="6.40" fill="#f01c1c" stroke="#a00000" stroke-width="0.35" stroke-opacity="0.6"/>
<rect x="448.07" y="176.37" width="6.40" height="6.40" fill="#f01c1c" stroke="#a00000" stroke-width="0.35" stroke-opacity="0.6"/>
<rect x="452.74" y="168.43" width="6.40" height="6.40" fill="#f01c1c" stroke="#a00000" stroke-width="0.35" stroke-opacity="0.6"/>
<rect x="456.68" y="162.82" width="6.40" height="6.40" fill="#f01c1c" stroke="#a00000" stroke-width="0.35" stroke-opacity="0.6"/>
<rect x="496.78" y="96.62" width="6.40" height="6.40" fill="#f01c1c" stroke="#a00000" stroke-width="0.35" stroke-opacity="0.6"/>
<rect x="502.68" y="89.56" width="6.40" height="6.40" fill="#f01c1c" stroke="#a00000" stroke-width="0.35" stroke-opacity="0.6"/>
<rect x="510.31" y="82.27" width="6.40" height="6.40" fill="#f01c1c" stroke="#a00000" stroke-width="0.35" stroke-opacity="0.6"/>
<rect x="556.56" y="60.72" width="6.40" height="6.40" fill="#f01c1c" stroke="#a00000" stroke-width="0.35" stroke-opacity="0.6"/>
<rect x="569.59" y="57.00" width="6.40" height="6.40" fill="#f01c1c" stroke="#a00000" stroke-width="0.35" stroke-opacity="0.6"/>
<rect x="614.12" y="53.14" width="6.40" height="6.40" fill="#f01c1c" stroke="#a00000" stroke-width="0.35" stroke-opacity="0.6"/>
<rect x="623.96" y="53.14" width="6.40" height="6.40" fill="#f01c1c" stroke="#a00000" stroke-width="0.35" stroke-opacity="0.6"/>
<rect x="732.20" y="53.14" width="6.40" height="6.40" fill="#f01c1c" stroke="#a00000" stroke-width="0.35" stroke-opacity="0.6"/>
<path d="M438.21,218.39H443.42M438.21,225.67H443.42" stroke="#801010" stroke-width="1.4" fill="none"/>
<path d="M439.08,205.64H444.28M439.08,214.38H444.28" stroke="#801010" stroke-width="1.4" fill="none"/>
<path d="M440.55,192.90H445.75M440.55,203.09H445.75" stroke="#801010" stroke-width="1.4" fill="none"/>
<path d="M443.75,183.28H448.95M443.75,193.48H448.95" stroke="#801010" stroke-width="1.4" fill="none"/>
<path d="M448.67,173.74H453.87M448.67,185.40H453.87" stroke="#801010" stroke-width="1.4" fill="none"/>
<path d="M453.34,165.81H458.54M453.34,177.46H458.54" stroke="#801010" stroke-width="1.4" fill="none"/>
<path d="M457.28,160.20H462.48M457.28,171.85H462.48" stroke="#801010" stroke-width="1.4" fill="none"/>
<path d="M497.38,91.08H502.58M497.38,108.56H502.58" stroke="#801010" stroke-width="1.4" fill="none"/>
<path d="M503.28,86.93H508.48M503.28,98.58H508.48" stroke="#801010" stroke-width="1.4" fill="none"/>
<path d="M510.91,82.56H516.11M510.91,88.39H516.11" stroke="#801010" stroke-width="1.4" fill="none"/>
<path d="M557.16,55.18H562.36M557.16,72.66H562.36" stroke="#801010" stroke-width="1.4" fill="none"/>
<path d="M570.19,50.73H575.39M570.19,69.67H575.39" stroke="#801010" stroke-width="1.4" fill="none"/>
<path d="M614.72,51.24H619.92M614.72,61.44H619.92" stroke="#801010" stroke-width="1.4" fill="none"/>
<path d="M624.56,49.06H629.76M624.56,63.62H629.76" stroke="#801010" stroke-width="1.4" fill="none"/>
<path d="M732.80,51.24H738.00M732.80,61.44H738.00" stroke="#801010" stroke-width="1.4" fill="none"/>
<rect x="439.5" y="5.9" width="303.5" height="240.0" fill="none" stroke="#000" stroke-width="3"/>
<line x1="440.20" y1="244.4" x2="440.20" y2="241.6" stroke="#000" stroke-width="2.1"/>
<line x1="464.80" y1="244.4" x2="464.80" y2="242.9" stroke="#000" stroke-width="2.1"/>
<line x1="489.40" y1="244.4" x2="489.40" y2="241.6" stroke="#000" stroke-width="2.1"/>
<line x1="514.00" y1="244.4" x2="514.00" y2="242.9" stroke="#000" stroke-width="2.1"/>
<line x1="538.60" y1="244.4" x2="538.60" y2="241.6" stroke="#000" stroke-width="2.1"/>
<line x1="563.20" y1="244.4" x2="563.20" y2="242.9" stroke="#000" stroke-width="2.1"/>
<line x1="587.80" y1="244.4" x2="587.80" y2="241.6" stroke="#000" stroke-width="2.1"/>
<line x1="612.40" y1="244.4" x2="612.40" y2="242.9" stroke="#000" stroke-width="2.1"/>
<line x1="637.00" y1="244.4" x2="637.00" y2="241.6" stroke="#000" stroke-width="2.1"/>
<line x1="661.60" y1="244.4" x2="661.60" y2="242.9" stroke="#000" stroke-width="2.1"/>
<line x1="686.20" y1="244.4" x2="686.20" y2="241.6" stroke="#000" stroke-width="2.1"/>
<line x1="710.80" y1="244.4" x2="710.80" y2="242.9" stroke="#000" stroke-width="2.1"/>
<line x1="735.40" y1="244.4" x2="735.40" y2="241.6" stroke="#000" stroke-width="2.1"/>
<line x1="441" y1="245.70" x2="443.8" y2="245.70" stroke="#000" stroke-width="2.1"/>
<line x1="441" y1="227.49" x2="442.5" y2="227.49" stroke="#000" stroke-width="2.1"/>
<line x1="441" y1="209.28" x2="443.8" y2="209.28" stroke="#000" stroke-width="2.1"/>
<line x1="441" y1="191.08" x2="442.5" y2="191.08" stroke="#000" stroke-width="2.1"/>
<line x1="441" y1="172.87" x2="443.8" y2="172.87" stroke="#000" stroke-width="2.1"/>
<line x1="441" y1="154.66" x2="442.5" y2="154.66" stroke="#000" stroke-width="2.1"/>
<line x1="441" y1="136.45" x2="443.8" y2="136.45" stroke="#000" stroke-width="2.1"/>
<line x1="441" y1="118.25" x2="442.5" y2="118.25" stroke="#000" stroke-width="2.1"/>
<line x1="441" y1="100.04" x2="443.8" y2="100.04" stroke="#000" stroke-width="2.1"/>
<line x1="441" y1="81.83" x2="442.5" y2="81.83" stroke="#000" stroke-width="2.1"/>
<line x1="441" y1="63.62" x2="443.8" y2="63.62" stroke="#000" stroke-width="2.1"/>
<line x1="441" y1="45.42" x2="442.5" y2="45.42" stroke="#000" stroke-width="2.1"/>
<line x1="441" y1="27.21" x2="443.8" y2="27.21" stroke="#000" stroke-width="2.1"/>
<line x1="441" y1="9.00" x2="442.5" y2="9.00" stroke="#000" stroke-width="2.1"/>
<text x="434.00" y="249.60" font-family="Liberation Serif" font-weight="bold" font-size="13" text-anchor="end" fill="#000" textLength="24.2" lengthAdjust="spacingAndGlyphs" >0.00</text>
<text x="434.00" y="213.19" font-family="Liberation Serif" font-weight="bold" font-size="13" text-anchor="end" fill="#000" textLength="24.2" lengthAdjust="spacingAndGlyphs" >0.05</text>
<text x="434.00" y="176.77" font-family="Liberation Serif" font-weight="bold" font-size="13" text-anchor="end" fill="#000" textLength="24.2" lengthAdjust="spacingAndGlyphs" >0.10</text>
<text x="434.00" y="140.35" font-family="Liberation Serif" font-weight="bold" font-size="13" text-anchor="end" fill="#000" textLength="24.2" lengthAdjust="spacingAndGlyphs" >0.15</text>
<text x="434.00" y="103.94" font-family="Liberation Serif" font-weight="bold" font-size="13" text-anchor="end" fill="#000" textLength="24.2" lengthAdjust="spacingAndGlyphs" >0.20</text>
<text x="434.00" y="67.53" font-family="Liberation Serif" font-weight="bold" font-size="13" text-anchor="end" fill="#000" textLength="24.2" lengthAdjust="spacingAndGlyphs" >0.25</text>
<text x="434.00" y="31.11" font-family="Liberation Serif" font-weight="bold" font-size="13" text-anchor="end" fill="#000" textLength="24.2" lengthAdjust="spacingAndGlyphs" >0.30</text>
<text x="439.60" y="262.00" font-family="Liberation Serif" font-weight="bold" font-size="13" text-anchor="middle" fill="#000" textLength="7.0" lengthAdjust="spacingAndGlyphs" >0</text>
<text x="488.80" y="262.00" font-family="Liberation Serif" font-weight="bold" font-size="13" text-anchor="middle" fill="#000" textLength="14.0" lengthAdjust="spacingAndGlyphs" >20</text>
<text x="538.00" y="262.00" font-family="Liberation Serif" font-weight="bold" font-size="13" text-anchor="middle" fill="#000" textLength="14.0" lengthAdjust="spacingAndGlyphs" >40</text>
<text x="587.20" y="262.00" font-family="Liberation Serif" font-weight="bold" font-size="13" text-anchor="middle" fill="#000" textLength="14.0" lengthAdjust="spacingAndGlyphs" >60</text>
<text x="636.40" y="262.00" font-family="Liberation Serif" font-weight="bold" font-size="13" text-anchor="middle" fill="#000" textLength="14.0" lengthAdjust="spacingAndGlyphs" >80</text>
<text x="685.60" y="262.00" font-family="Liberation Serif" font-weight="bold" font-size="13" text-anchor="middle" fill="#000" textLength="21.0" lengthAdjust="spacingAndGlyphs" >100</text>
<text x="734.80" y="262.00" font-family="Liberation Serif" font-weight="bold" font-size="13" text-anchor="middle" fill="#000" textLength="21.0" lengthAdjust="spacingAndGlyphs" >120</text>
<text x="594.10" y="280.60" font-family="Liberation Serif" font-weight="bold" font-size="20" text-anchor="middle" fill="#000" textLength="75.5" lengthAdjust="spacingAndGlyphs" >Time (h)</text>
<text transform="translate(397.3,126) rotate(-90)" font-family="Liberation Serif" font-weight="bold" font-size="19.5" text-anchor="middle" textLength="87" lengthAdjust="spacingAndGlyphs" xml:space="preserve"><tspan>q</tspan><tspan dy="3.7">e</tspan><tspan dy="-3.7"> </tspan><tspan font-size="12.1" dy="-0.7">(</tspan><tspan dy="0.7">mg / g</tspan><tspan font-size="12.1" dy="-0.7">)</tspan></text>
<text x="448.10" y="25.70" font-family="Liberation Serif" font-weight="bold" font-size="16" text-anchor="start" fill="#0a1a8c" textLength="148.3" lengthAdjust="spacingAndGlyphs" >2 mg/L MB solution</text>
<text x="448.10" y="46.00" font-family="Liberation Serif" font-weight="bold" font-size="16" text-anchor="start" fill="#0a1a8c" textLength="48.5" lengthAdjust="spacingAndGlyphs" >pH 2.0</text>
<text x="675.60" y="54.30" font-family="Liberation Serif" font-weight="bold" font-size="16" text-anchor="start" fill="#000" textLength="52.4" lengthAdjust="spacingAndGlyphs" >S-AA-1</text>
<text x="674.80" y="97.00" font-family="Liberation Serif" font-weight="bold" font-size="16" text-anchor="start" fill="#000" textLength="53.2" lengthAdjust="spacingAndGlyphs" >S-AA-2</text>
<text x="676.90" y="169.40" font-family="Liberation Serif" font-weight="bold" font-size="16" text-anchor="start" fill="#000" textLength="49.8" lengthAdjust="spacingAndGlyphs" >S-AA-3</text>
<text x="376.00" y="32.50" font-family="Liberation Serif" font-weight="bold" font-size="34" text-anchor="start" fill="#000" >b)</text>
<defs><linearGradient id="gh" x1="0" y1="0" x2="1" y2="0"><stop offset="0" stop-color="#000" stop-opacity="0.45"/><stop offset="0.3" stop-color="#000" stop-opacity="0.05"/><stop offset="0.5" stop-color="#000" stop-opacity="0"/><stop offset="0.7" stop-color="#000" stop-opacity="0.05"/><stop offset="1" stop-color="#000" stop-opacity="0.45"/></linearGradient><linearGradient id="gvs" x1="0" y1="0" x2="0" y2="1"><stop offset="0" stop-color="#000" stop-opacity="0.88"/><stop offset="0.12" stop-color="#000" stop-opacity="0.68"/><stop offset="0.22" stop-color="#000" stop-opacity="0.4"/><stop offset="0.33" stop-color="#000" stop-opacity="0.1"/><stop offset="0.42" stop-color="#000" stop-opacity="0"/><stop offset="0.58" stop-color="#000" stop-opacity="0"/><stop offset="0.7" stop-color="#000" stop-opacity="0.15"/><stop offset="0.85" stop-color="#000" stop-opacity="0.55"/><stop offset="1" stop-color="#000" stop-opacity="0.85"/></linearGradient><linearGradient id="gvm" x1="0" y1="0" x2="0" y2="1"><stop offset="0" stop-color="#000" stop-opacity="0.55"/><stop offset="0.2" stop-color="#000" stop-opacity="0.35"/><stop offset="0.4" stop-color="#000" stop-opacity="0.05"/><stop offset="0.55" stop-color="#000" stop-opacity="0"/><stop offset="0.75" stop-color="#000" stop-opacity="0.2"/><stop offset="1" stop-color="#000" stop-opacity="0.5"/></linearGradient></defs>
<rect x="161.40" y="533.21" width="15.6" height="22.79" fill="#000000"/>
<rect x="161.40" y="533.21" width="15.6" height="22.79" fill="url(#gh)"/>
<rect x="161.40" y="533.21" width="15.6" height="22.79" fill="url(#gvs)" stroke="#111" stroke-width="1"/>
<rect x="181.49" y="527.65" width="15.6" height="28.35" fill="#ff0000"/>
<rect x="181.49" y="527.65" width="15.6" height="28.35" fill="url(#gh)"/>
<rect x="181.49" y="527.65" width="15.6" height="28.35" fill="url(#gvs)" stroke="#111" stroke-width="1"/>
<rect x="201.58" y="523.70" width="15.6" height="32.30" fill="#00ff00"/>
<rect x="201.58" y="523.70" width="15.6" height="32.30" fill="url(#gh)"/>
<rect x="201.58" y="523.70" width="15.6" height="32.30" fill="url(#gvs)" stroke="#111" stroke-width="1"/>
<rect x="221.67" y="519.75" width="15.6" height="36.25" fill="#0000ff"/>
<rect x="221.67" y="519.75" width="15.6" height="36.25" fill="url(#gh)"/>
<rect x="221.67" y="519.75" width="15.6" height="36.25" fill="url(#gvs)" stroke="#111" stroke-width="1"/>
<rect x="241.76" y="507.55" width="15.6" height="48.45" fill="#ffff00"/>
<rect x="241.76" y="507.55" width="15.6" height="48.45" fill="url(#gh)"/>
<rect x="241.76" y="507.55" width="15.6" height="48.45" fill="url(#gvm)" stroke="#111" stroke-width="1"/>
<rect x="261.85" y="505.40" width="15.6" height="50.60" fill="#d030f0"/>
<rect x="261.85" y="505.40" width="15.6" height="50.60" fill="url(#gh)"/>
<rect x="261.85" y="505.40" width="15.6" height="50.60" fill="url(#gvm)" stroke="#111" stroke-width="1"/>
<rect x="281.94" y="520.83" width="15.6" height="35.17" fill="#ff40a0"/>
<rect x="281.94" y="520.83" width="15.6" height="35.17" fill="url(#gh)"/>
<rect x="281.94" y="520.83" width="15.6" height="35.17" fill="url(#gvm)" stroke="#111" stroke-width="1"/>
<rect x="302.03" y="516.88" width="15.6" height="39.12" fill="#ff0000"/>
<rect x="302.03" y="516.88" width="15.6" height="39.12" fill="url(#gh)"/>
<rect x="302.03" y="516.88" width="15.6" height="39.12" fill="url(#gvs)" stroke="#111" stroke-width="1"/>
<rect x="322.12" y="512.57" width="15.6" height="43.43" fill="#00ff00"/>
<rect x="322.12" y="512.57" width="15.6" height="43.43" fill="url(#gh)"/>
<rect x="322.12" y="512.57" width="15.6" height="43.43" fill="url(#gvs)" stroke="#111" stroke-width="1"/>
<rect x="342.21" y="506.11" width="15.6" height="49.89" fill="#0000ff"/>
<rect x="342.21" y="506.11" width="15.6" height="49.89" fill="url(#gh)"/>
<rect x="342.21" y="506.11" width="15.6" height="49.89" fill="url(#gvs)" stroke="#111" stroke-width="1"/>
<rect x="362.30" y="501.09" width="15.6" height="54.91" fill="#ffff00"/>
<rect x="362.30" y="501.09" width="15.6" height="54.91" fill="url(#gh)"/>
<rect x="362.30" y="501.09" width="15.6" height="54.91" fill="url(#gvm)" stroke="#111" stroke-width="1"/>
<rect x="382.39" y="497.86" width="15.6" height="58.14" fill="#d030f0"/>
<rect x="382.39" y="497.86" width="15.6" height="58.14" fill="url(#gh)"/>
<rect x="382.39" y="497.86" width="15.6" height="58.14" fill="url(#gvm)" stroke="#111" stroke-width="1"/>
<rect x="402.48" y="474.89" width="15.6" height="81.11" fill="#ff40a0"/>
<rect x="402.48" y="474.89" width="15.6" height="81.11" fill="url(#gh)"/>
<rect x="402.48" y="474.89" width="15.6" height="81.11" fill="url(#gvm)" stroke="#111" stroke-width="1"/>
<rect x="422.57" y="470.94" width="15.6" height="85.06" fill="#ff0000"/>
<rect x="422.57" y="470.94" width="15.6" height="85.06" fill="url(#gh)"/>
<rect x="422.57" y="470.94" width="15.6" height="85.06" fill="url(#gvs)" stroke="#111" stroke-width="1"/>
<rect x="442.66" y="464.84" width="15.6" height="91.16" fill="#00ff00"/>
<rect x="442.66" y="464.84" width="15.6" height="91.16" fill="url(#gh)"/>
<rect x="442.66" y="464.84" width="15.6" height="91.16" fill="url(#gvs)" stroke="#111" stroke-width="1"/>
<rect x="462.75" y="459.46" width="15.6" height="96.54" fill="#0000ff"/>
<rect x="462.75" y="459.46" width="15.6" height="96.54" fill="url(#gh)"/>
<rect x="462.75" y="459.46" width="15.6" height="96.54" fill="url(#gvs)" stroke="#111" stroke-width="1"/>
<rect x="482.84" y="445.10" width="15.6" height="110.90" fill="#ffff00"/>
<rect x="482.84" y="445.10" width="15.6" height="110.90" fill="url(#gh)"/>
<rect x="482.84" y="445.10" width="15.6" height="110.90" fill="url(#gvm)" stroke="#111" stroke-width="1"/>
<rect x="502.93" y="444.02" width="15.6" height="111.98" fill="#d030f0"/>
<rect x="502.93" y="444.02" width="15.6" height="111.98" fill="url(#gh)"/>
<rect x="502.93" y="444.02" width="15.6" height="111.98" fill="url(#gvm)" stroke="#111" stroke-width="1"/>
<rect x="523.02" y="375.11" width="15.6" height="180.89" fill="#ff40a0"/>
<rect x="523.02" y="375.11" width="15.6" height="180.89" fill="url(#gh)"/>
<rect x="523.02" y="375.11" width="15.6" height="180.89" fill="url(#gvm)" stroke="#111" stroke-width="1"/>
<rect x="543.11" y="366.86" width="15.6" height="189.14" fill="#ff0000"/>
<rect x="543.11" y="366.86" width="15.6" height="189.14" fill="url(#gh)"/>
<rect x="543.11" y="366.86" width="15.6" height="189.14" fill="url(#gvs)" stroke="#111" stroke-width="1"/>
<rect x="563.20" y="361.84" width="15.6" height="194.16" fill="#00ff00"/>
<rect x="563.20" y="361.84" width="15.6" height="194.16" fill="url(#gh)"/>
<rect x="563.20" y="361.84" width="15.6" height="194.16" fill="url(#gvs)" stroke="#111" stroke-width="1"/>
<rect x="583.29" y="352.50" width="15.6" height="203.50" fill="#0000ff"/>
<rect x="583.29" y="352.50" width="15.6" height="203.50" fill="url(#gh)"/>
<rect x="583.29" y="352.50" width="15.6" height="203.50" fill="url(#gvs)" stroke="#111" stroke-width="1"/>
<rect x="603.38" y="316.25" width="15.6" height="239.75" fill="#ffff00"/>
<rect x="603.38" y="316.25" width="15.6" height="239.75" fill="url(#gh)"/>
<rect x="603.38" y="316.25" width="15.6" height="239.75" fill="url(#gvm)" stroke="#111" stroke-width="1"/>
<rect x="623.47" y="314.82" width="15.6" height="241.18" fill="#d030f0"/>
<rect x="623.47" y="314.82" width="15.6" height="241.18" fill="url(#gh)"/>
<rect x="623.47" y="314.82" width="15.6" height="241.18" fill="url(#gvm)" stroke="#111" stroke-width="1"/>
<path d="M169.55,528.80V538.00M166.95,528.80H172.15M166.95,538.00H172.15" stroke="#f0c060" stroke-width="1.5" fill="none"/>
<path d="M189.64,524.00V532.30M187.04,524.00H192.24M187.04,532.30H192.24" stroke="#f0c060" stroke-width="1.5" fill="none"/>
<path d="M209.73,522.80V525.40M207.13,522.80H212.33M207.13,525.40H212.33" stroke="#f0c060" stroke-width="1.5" fill="none"/>
<path d="M229.82,516.20V525.40M227.22,516.20H232.42M227.22,525.40H232.42" stroke="#f0c060" stroke-width="1.5" fill="none"/>
<path d="M249.91,504.00V512.40M247.31,504.00H252.51M247.31,512.40H252.51" stroke="#f0c060" stroke-width="1.5" fill="none"/>
<path d="M270.00,498.10V513.70M267.40,498.10H272.60M267.40,513.70H272.60" stroke="#f0c060" stroke-width="1.5" fill="none"/>
<path d="M290.09,516.40V525.60M287.49,516.40H292.69M287.49,525.60H292.69" stroke="#f0c060" stroke-width="1.5" fill="none"/>
<path d="M310.18,514.70V520.70M307.58,514.70H312.78M307.58,520.70H312.78" stroke="#f0c060" stroke-width="1.5" fill="none"/>
<path d="M330.27,511.50V514.70M327.67,511.50H332.87M327.67,514.70H332.87" stroke="#f0c060" stroke-width="1.5" fill="none"/>
<path d="M350.36,504.30V508.60M347.76,504.30H352.96M347.76,508.60H352.96" stroke="#f0c060" stroke-width="1.5" fill="none"/>
<path d="M370.45,496.80V506.50M367.85,496.80H373.05M367.85,506.50H373.05" stroke="#f0c060" stroke-width="1.5" fill="none"/>
<path d="M390.54,496.80V500.80M387.94,496.80H393.14M387.94,500.80H393.14" stroke="#f0c060" stroke-width="1.5" fill="none"/>
<path d="M410.63,468.10V482.70M408.03,468.10H413.23M408.03,482.70H413.23" stroke="#f0c060" stroke-width="1.5" fill="none"/>
<path d="M430.72,467.00V474.80M428.12,467.00H433.32M428.12,474.80H433.32" stroke="#f0c060" stroke-width="1.5" fill="none"/>
<path d="M450.81,463.60V466.30M448.21,463.60H453.41M448.21,466.30H453.41" stroke="#f0c060" stroke-width="1.5" fill="none"/>
<path d="M470.90,455.10V464.80M468.30,455.10H473.50M468.30,464.80H473.50" stroke="#f0c060" stroke-width="1.5" fill="none"/>
<path d="M490.99,439.70V451.30M488.39,439.70H493.59M488.39,451.30H493.59" stroke="#f0c060" stroke-width="1.5" fill="none"/>
<path d="M511.08,439.70V449.10M508.48,439.70H513.68M508.48,449.10H513.68" stroke="#f0c060" stroke-width="1.5" fill="none"/>
<path d="M531.17,370.50V380.00M528.57,370.50H533.77M528.57,380.00H533.77" stroke="#f0c060" stroke-width="1.5" fill="none"/>
<path d="M551.26,363.40V371.30M548.66,363.40H553.86M548.66,371.30H553.86" stroke="#f0c060" stroke-width="1.5" fill="none"/>
<path d="M571.35,359.50V364.10M568.75,359.50H573.95M568.75,364.10H573.95" stroke="#f0c060" stroke-width="1.5" fill="none"/>
<path d="M591.44,343.70V362.30M588.84,343.70H594.04M588.84,362.30H594.04" stroke="#f0c060" stroke-width="1.5" fill="none"/>
<path d="M611.53,312.50V320.20M608.93,312.50H614.13M608.93,320.20H614.13" stroke="#f0c060" stroke-width="1.5" fill="none"/>
<path d="M631.62,307.90V322.70M629.02,307.90H634.22M629.02,322.70H634.22" stroke="#f0c060" stroke-width="1.5" fill="none"/>
<path d="M160.2,556.0 V305 H642.36 V556.0" fill="none" stroke="#000" stroke-width="1.7"/>
<line x1="159.7" y1="556.0" x2="642.86" y2="556.0" stroke="#000" stroke-width="2"/>
<line x1="160.2" y1="556.0" x2="160.2" y2="305" stroke="#000" stroke-width="2.4"/>
<line x1="160.2" y1="556.00" x2="164.2" y2="556.00" stroke="#000" stroke-width="1.4"/>
<line x1="160.2" y1="538.05" x2="162.2" y2="538.05" stroke="#000" stroke-width="1.4"/>
<line x1="160.2" y1="520.11" x2="164.2" y2="520.11" stroke="#000" stroke-width="1.4"/>
<line x1="160.2" y1="502.17" x2="162.2" y2="502.17" stroke="#000" stroke-width="1.4"/>
<line x1="160.2" y1="484.22" x2="164.2" y2="484.22" stroke="#000" stroke-width="1.4"/>
<line x1="160.2" y1="466.27" x2="162.2" y2="466.27" stroke="#000" stroke-width="1.4"/>
<line x1="160.2" y1="448.33" x2="164.2" y2="448.33" stroke="#000" stroke-width="1.4"/>
<line x1="160.2" y1="430.38" x2="162.2" y2="430.38" stroke="#000" stroke-width="1.4"/>
<line x1="160.2" y1="412.44" x2="164.2" y2="412.44" stroke="#000" stroke-width="1.4"/>
<line x1="160.2" y1="394.50" x2="162.2" y2="394.50" stroke="#000" stroke-width="1.4"/>
<line x1="160.2" y1="376.55" x2="164.2" y2="376.55" stroke="#000" stroke-width="1.4"/>
<line x1="160.2" y1="358.61" x2="162.2" y2="358.61" stroke="#000" stroke-width="1.4"/>
<line x1="160.2" y1="340.66" x2="164.2" y2="340.66" stroke="#000" stroke-width="1.4"/>
<line x1="160.2" y1="322.72" x2="162.2" y2="322.72" stroke="#000" stroke-width="1.4"/>
<line x1="160.2" y1="304.77" x2="164.2" y2="304.77" stroke="#000" stroke-width="1.4"/>
<text x="154.30" y="559.30" font-family="Liberation Serif" font-weight="bold" font-size="9.8" text-anchor="end" fill="#000" textLength="5.6" lengthAdjust="spacingAndGlyphs" >0</text>
<text x="154.30" y="523.41" font-family="Liberation Serif" font-weight="bold" font-size="9.8" text-anchor="end" fill="#000" textLength="11.2" lengthAdjust="spacingAndGlyphs" >10</text>
<text x="154.30" y="487.52" font-family="Liberation Serif" font-weight="bold" font-size="9.8" text-anchor="end" fill="#000" textLength="11.2" lengthAdjust="spacingAndGlyphs" >20</text>
<text x="154.30" y="451.63" font-family="Liberation Serif" font-weight="bold" font-size="9.8" text-anchor="end" fill="#000" textLength="11.2" lengthAdjust="spacingAndGlyphs" >30</text>
<text x="154.30" y="415.74" font-family="Liberation Serif" font-weight="bold" font-size="9.8" text-anchor="end" fill="#000" textLength="11.2" lengthAdjust="spacingAndGlyphs" >40</text>
<text x="154.30" y="379.85" font-family="Liberation Serif" font-weight="bold" font-size="9.8" text-anchor="end" fill="#000" textLength="11.2" lengthAdjust="spacingAndGlyphs" >50</text>
<text x="154.30" y="343.96" font-family="Liberation Serif" font-weight="bold" font-size="9.8" text-anchor="end" fill="#000" textLength="11.2" lengthAdjust="spacingAndGlyphs" >60</text>
<text x="154.30" y="308.07" font-family="Liberation Serif" font-weight="bold" font-size="9.8" text-anchor="end" fill="#000" textLength="11.2" lengthAdjust="spacingAndGlyphs" >70</text>
<text transform="translate(137.0,430) rotate(-90)" font-family="Liberation Serif" font-weight="bold" font-size="11.5" text-anchor="middle" fill="#200818" stroke="#200818" stroke-width="0.1" textLength="30.5" lengthAdjust="spacingAndGlyphs">E(%)</text>
<text x="168.70" y="328.30" font-family="Liberation Serif" font-weight="bold" font-size="20" text-anchor="start" fill="#000" textLength="73" lengthAdjust="spacingAndGlyphs" >S-AA-1</text>
<text x="106.50" y="329.60" font-family="Liberation Serif" font-weight="bold" font-size="35" text-anchor="start" fill="#000" textLength="25.8" lengthAdjust="spacingAndGlyphs" >c)</text>
<path d="M160.2,556.0 V622 H642.36 V556.0" fill="none" stroke="#000" stroke-width="1.6"/>
<line x1="160.2" y1="604" x2="642.36" y2="604" stroke="#000" stroke-width="1.5"/>
<line x1="180.29" y1="556.0" x2="180.29" y2="604" stroke="#000" stroke-width="1.5"/>
<line x1="200.38" y1="556.0" x2="200.38" y2="604" stroke="#000" stroke-width="1.5"/>
<line x1="220.47" y1="556.0" x2="220.47" y2="604" stroke="#000" stroke-width="1.5"/>
<line x1="240.56" y1="556.0" x2="240.56" y2="604" stroke="#000" stroke-width="1.5"/>
<line x1="260.65" y1="556.0" x2="260.65" y2="604" stroke="#000" stroke-width="1.5"/>
<line x1="280.74" y1="556.0" x2="280.74" y2="622" stroke="#000" stroke-width="1.5"/>
<line x1="300.83" y1="556.0" x2="300.83" y2="604" stroke="#000" stroke-width="1.5"/>
<line x1="320.92" y1="556.0" x2="320.92" y2="604" stroke="#000" stroke-width="1.5"/>
<line x1="341.01" y1="556.0" x2="341.01" y2="604" stroke="#000" stroke-width="1.5"/>
<line x1="361.10" y1="556.0" x2="361.10" y2="604" stroke="#000" stroke-width="1.5"/>
<line x1="381.19" y1="556.0" x2="381.19" y2="604" stroke="#000" stroke-width="1.5"/>
<line x1="401.28" y1="556.0" x2="401.28" y2="622" stroke="#000" stroke-width="1.5"/>
<line x1="421.37" y1="556.0" x2="421.37" y2="604" stroke="#000" stroke-width="1.5"/>
<line x1="441.46" y1="556.0" x2="441.46" y2="604" stroke="#000" stroke-width="1.5"/>
<line x1="461.55" y1="556.0" x2="461.55" y2="604" stroke="#000" stroke-width="1.5"/>
<line x1="481.64" y1="556.0" x2="481.64" y2="604" stroke="#000" stroke-width="1.5"/>
<line x1="501.73" y1="556.0" x2="501.73" y2="604" stroke="#000" stroke-width="1.5"/>
<line x1="521.82" y1="556.0" x2="521.82" y2="622" stroke="#000" stroke-width="1.5"/>
<line x1="541.91" y1="556.0" x2="541.91" y2="604" stroke="#000" stroke-width="1.5"/>
<line x1="562.00" y1="556.0" x2="562.00" y2="604" stroke="#000" stroke-width="1.5"/>
<line x1="582.09" y1="556.0" x2="582.09" y2="604" stroke="#000" stroke-width="1.5"/>
<line x1="602.18" y1="556.0" x2="602.18" y2="604" stroke="#000" stroke-width="1.5"/>
<line x1="622.27" y1="556.0" x2="622.27" y2="604" stroke="#000" stroke-width="1.5"/>
<text transform="translate(175.14,578.2) rotate(-90)" font-family="Liberation Serif" font-weight="bold" font-size="12" text-anchor="middle" textLength="38.5" lengthAdjust="spacingAndGlyphs" xml:space="preserve">2  mg/L</text>
<text transform="translate(195.23,578.2) rotate(-90)" font-family="Liberation Serif" font-weight="bold" font-size="12" text-anchor="middle" textLength="38.5" lengthAdjust="spacingAndGlyphs" xml:space="preserve">3  mg/L</text>
<text transform="translate(215.32,578.2) rotate(-90)" font-family="Liberation Serif" font-weight="bold" font-size="12" text-anchor="middle" textLength="38.5" lengthAdjust="spacingAndGlyphs" xml:space="preserve">4  mg/L</text>
<text transform="translate(235.41,578.2) rotate(-90)" font-family="Liberation Serif" font-weight="bold" font-size="12" text-anchor="middle" textLength="38.5" lengthAdjust="spacingAndGlyphs" xml:space="preserve">5  mg/L</text>
<text transform="translate(255.50,578.2) rotate(-90)" font-family="Liberation Serif" font-weight="bold" font-size="12" text-anchor="middle" textLength="40" lengthAdjust="spacingAndGlyphs" xml:space="preserve">10 mg/L</text>
<text transform="translate(275.59,578.2) rotate(-90)" font-family="Liberation Serif" font-weight="bold" font-size="12" text-anchor="middle" textLength="40" lengthAdjust="spacingAndGlyphs" xml:space="preserve">20 mg/L</text>
<text transform="translate(295.68,578.2) rotate(-90)" font-family="Liberation Serif" font-weight="bold" font-size="12" text-anchor="middle" textLength="38.5" lengthAdjust="spacingAndGlyphs" xml:space="preserve">2  mg/L</text>
<text transform="translate(315.77,578.2) rotate(-90)" font-family="Liberation Serif" font-weight="bold" font-size="12" text-anchor="middle" textLength="38.5" lengthAdjust="spacingAndGlyphs" xml:space="preserve">3  mg/L</text>
<text transform="translate(335.86,578.2) rotate(-90)" font-family="Liberation Serif" font-weight="bold" font-size="12" text-anchor="middle" textLength="38.5" lengthAdjust="spacingAndGlyphs" xml:space="preserve">4  mg/L</text>
<text transform="translate(355.95,578.2) rotate(-90)" font-family="Liberation Serif" font-weight="bold" font-size="12" text-anchor="middle" textLength="38.5" lengthAdjust="spacingAndGlyphs" xml:space="preserve">5  mg/L</text>
<text transform="translate(376.04,578.2) rotate(-90)" font-family="Liberation Serif" font-weight="bold" font-size="12" text-anchor="middle" textLength="40" lengthAdjust="spacingAndGlyphs" xml:space="preserve">10 mg/L</text>
<text transform="translate(396.13,578.2) rotate(-90)" font-family="Liberation Serif" font-weight="bold" font-size="12" text-anchor="middle" textLength="40" lengthAdjust="spacingAndGlyphs" xml:space="preserve">20 mg/L</text>
<text transform="translate(416.22,578.2) rotate(-90)" font-family="Liberation Serif" font-weight="bold" font-size="12" text-anchor="middle" textLength="38.5" lengthAdjust="spacingAndGlyphs" xml:space="preserve">2  mg/L</text>
<text transform="translate(436.31,578.2) rotate(-90)" font-family="Liberation Serif" font-weight="bold" font-size="12" text-anchor="middle" textLength="38.5" lengthAdjust="spacingAndGlyphs" xml:space="preserve">3  mg/L</text>
<text transform="translate(456.40,578.2) rotate(-90)" font-family="Liberation Serif" font-weight="bold" font-size="12" text-anchor="middle" textLength="38.5" lengthAdjust="spacingAndGlyphs" xml:space="preserve">4  mg/L</text>
<text transform="translate(476.49,578.2) rotate(-90)" font-family="Liberation Serif" font-weight="bold" font-size="12" text-anchor="middle" textLength="38.5" lengthAdjust="spacingAndGlyphs" xml:space="preserve">5  mg/L</text>
<text transform="translate(496.58,578.2) rotate(-90)" font-family="Liberation Serif" font-weight="bold" font-size="12" text-anchor="middle" textLength="40" lengthAdjust="spacingAndGlyphs" xml:space="preserve">10 mg/L</text>
<text transform="translate(516.67,578.2) rotate(-90)" font-family="Liberation Serif" font-weight="bold" font-size="12" text-anchor="middle" textLength="40" lengthAdjust="spacingAndGlyphs" xml:space="preserve">20 mg/L</text>
<text transform="translate(536.76,578.2) rotate(-90)" font-family="Liberation Serif" font-weight="bold" font-size="12" text-anchor="middle" textLength="38.5" lengthAdjust="spacingAndGlyphs" xml:space="preserve">2  mg/L</text>
<text transform="translate(556.85,578.2) rotate(-90)" font-family="Liberation Serif" font-weight="bold" font-size="12" text-anchor="middle" textLength="38.5" lengthAdjust="spacingAndGlyphs" xml:space="preserve">3  mg/L</text>
<text transform="translate(576.94,578.2) rotate(-90)" font-family="Liberation Serif" font-weight="bold" font-size="12" text-anchor="middle" textLength="38.5" lengthAdjust="spacingAndGlyphs" xml:space="preserve">4  mg/L</text>
<text transform="translate(597.03,578.2) rotate(-90)" font-family="Liberation Serif" font-weight="bold" font-size="12" text-anchor="middle" textLength="38.5" lengthAdjust="spacingAndGlyphs" xml:space="preserve">5  mg/L</text>
<text transform="translate(617.12,578.2) rotate(-90)" font-family="Liberation Serif" font-weight="bold" font-size="12" text-anchor="middle" textLength="40" lengthAdjust="spacingAndGlyphs" xml:space="preserve">10 mg/L</text>
<text transform="translate(637.22,578.2) rotate(-90)" font-family="Liberation Serif" font-weight="bold" font-size="12" text-anchor="middle" textLength="40" lengthAdjust="spacingAndGlyphs" xml:space="preserve">20 mg/L</text>
<text x="220.47" y="617.20" font-family="Liberation Serif" font-weight="bold" font-size="11.5" text-anchor="middle" fill="#000" textLength="38.2" lengthAdjust="spacingAndGlyphs" >pH 2.0</text>
<text x="341.01" y="617.20" font-family="Liberation Serif" font-weight="bold" font-size="11.5" text-anchor="middle" fill="#000" textLength="38.2" lengthAdjust="spacingAndGlyphs" >pH 4.8</text>
<text x="461.55" y="617.20" font-family="Liberation Serif" font-weight="bold" font-size="11.5" text-anchor="middle" fill="#000" textLength="38.2" lengthAdjust="spacingAndGlyphs" >pH 7.4</text>
<text x="582.09" y="617.20" font-family="Liberation Serif" font-weight="bold" font-size="11.5" text-anchor="middle" fill="#000" textLength="45" lengthAdjust="spacingAndGlyphs" >pH 10.0</text>
</svg></body></html>
